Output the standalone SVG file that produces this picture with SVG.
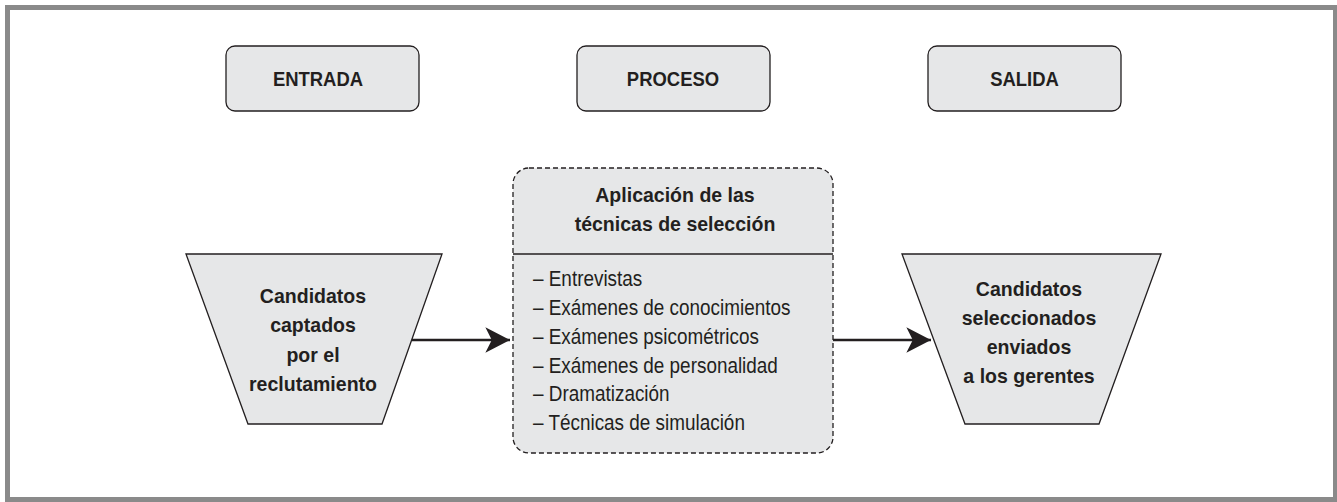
<svg xmlns="http://www.w3.org/2000/svg" width="1337" height="502" viewBox="0 0 1337 502">
<style>
.box{fill:#e6e7e8;stroke:#231f20;stroke-width:1.3}
.dash{fill:#e6e7e8;stroke:#231f20;stroke-width:1.3;stroke-dasharray:5 3}
.hdr{font-family:"Liberation Sans",Arial,sans-serif;font-weight:bold;font-size:20.5px;fill:#231f20;text-anchor:middle}
.bt{font-family:"Liberation Sans",Arial,sans-serif;font-weight:bold;font-size:21px;fill:#231f20;text-anchor:middle}
.li{font-family:"Liberation Sans",Arial,sans-serif;font-size:22px;fill:#231f20}
.conn{stroke:#231f20;stroke-width:2.6;fill:none}
</style>
<defs>
<marker id="ah" markerUnits="userSpaceOnUse" markerWidth="30" markerHeight="30" viewBox="-25 -14 27 28" refX="0" refY="0" orient="auto">
<path d="M0,0 L-23,-12 L-17,0 L-23,12 Z" fill="#231f20"/>
</marker>
</defs>
<rect x="7.5" y="7.5" width="1328" height="492" fill="#fff" stroke="#8a8a8a" stroke-width="5"/>
<g id="entrada">
<rect class="box" x="226" y="46" width="193" height="65" rx="9"/>
<text class="hdr" transform="translate(318,0) scale(0.9,1)" x="0" y="86.5">ENTRADA</text>
</g>
<g id="proceso">
<rect class="box" x="577" y="46" width="193" height="65" rx="9"/>
<text class="hdr" transform="translate(673,0) scale(0.9,1)" x="0" y="86.5">PROCESO</text>
</g>
<g id="salida">
<rect class="box" x="928" y="46" width="193" height="65" rx="9"/>
<text class="hdr" transform="translate(1024.5,0) scale(0.9,1)" x="0" y="86.5">SALIDA</text>
</g>
<g id="candidatos-captados">
<polygon class="box" points="186,254 442,254 382,424 248,424"/>
<g transform="translate(313,0) scale(0.93,1)">
<text class="bt" x="0" y="303">Candidatos</text>
<text class="bt" x="0" y="332.5">captados</text>
<text class="bt" x="0" y="362">por el</text>
<text class="bt" x="0" y="391.5">reclutamiento</text>
</g>
</g>
<g id="tecnicas">
<rect class="dash" x="513" y="168" width="320" height="285" rx="16"/>
<line x1="513" y1="254" x2="833" y2="254" stroke="#231f20" stroke-width="1.3"/>
<g transform="translate(675,0) scale(0.93,1)">
<text class="bt" x="0" y="202.5">Aplicación de las</text>
<text class="bt" x="0" y="231">técnicas de selección</text>
</g>
<g transform="translate(533,0) scale(0.86,1)">
<text class="li" x="0" y="286">– Entrevistas</text>
<text class="li" x="0" y="315">– Exámenes de conocimientos</text>
<text class="li" x="0" y="344.5">– Exámenes psicométricos</text>
<text class="li" x="0" y="373">– Exámenes de personalidad</text>
<text class="li" x="0" y="401.5">– Dramatización</text>
<text class="li" x="0" y="430">– Técnicas de simulación</text>
</g>
</g>
<g id="candidatos-seleccionados">
<polygon class="box" points="902,254 1161,254 1099,424 965,424"/>
<g transform="translate(1029,0) scale(0.93,1)">
<text class="bt" x="0" y="296">Candidatos</text>
<text class="bt" x="0" y="325">seleccionados</text>
<text class="bt" x="0" y="354.5">enviados</text>
<text class="bt" x="0" y="383.5">a los gerentes</text>
</g>
</g>
<g id="connectors">
<line class="conn" x1="412" y1="340" x2="510" y2="340" marker-end="url(#ah)"/>
<line class="conn" x1="833" y1="340" x2="931" y2="340" marker-end="url(#ah)"/>
</g>
</svg>
